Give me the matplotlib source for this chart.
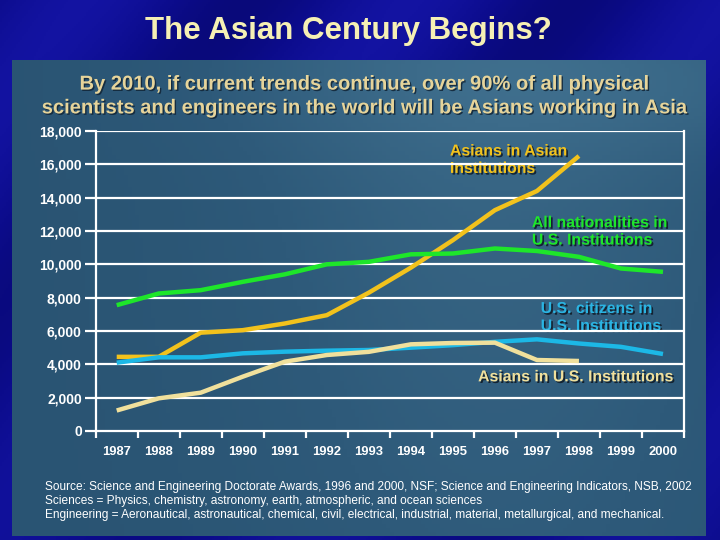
import numpy as np
import matplotlib.pyplot as plt
import matplotlib.patheffects as pe
from matplotlib.colors import LinearSegmentedColormap
from matplotlib.ticker import FixedLocator, FuncFormatter, NullFormatter

years = [1987, 1988, 1989, 1990, 1991, 1992, 1993, 1994, 1995, 1996, 1997, 1998, 1999, 2000]
# Asians in Asian institutions (to 1998)
asians_asia = [4450, 4450, 5900, 6050, 6450, 6950, 8300, 9800, 11450, 13250, 14400, 16500]
# all nationalities in US institutions
all_us = [7550, 8250, 8450, 8950, 9400, 10000, 10150, 10600, 10650, 10950, 10800, 10450, 9750, 9550]
# US citizens in US institutions
us_citizens = [4100, 4420, 4420, 4660, 4760, 4820, 4860, 5000, 5150, 5350, 5500, 5250, 5050, 4620]
# Asians in US institutions (to 1998)
asians_us = [1230, 1960, 2300, 3260, 4160, 4560, 4750, 5200, 5280, 5300, 4260, 4200]

yticks = [0, 2000, 4000, 6000, 8000, 10000, 12000, 14000, 16000, 18000]

plt.rcParams['font.family'] = ['Liberation Sans', 'DejaVu Sans']

fig = plt.figure(figsize=(7.2, 5.4), dpi=100)
fig.patch.set_facecolor('#0a0a7c')

# slide background in pixel coordinates
bg = fig.add_axes([0, 0, 1, 1])
bg.set_xlim(0, 720)
bg.set_ylim(540, 0)
bg.axis('off')
yy, xx = np.mgrid[0:1:270j, 0:1:360j]
ramp = 0.55 + 0.25 * np.sin((xx * 2.2 + yy * 1.3) * np.pi * 2) * (1 - yy * 0.4)
slide_cm = LinearSegmentedColormap.from_list('slide', ['#050560', '#0c0c8c', '#1818b0'])
bg.imshow(ramp, cmap=slide_cm, vmin=0, vmax=1, extent=(0, 720, 540, 0), aspect='auto', zorder=0)

# steel blue panel
py, px = np.mgrid[0:1:120j, 0:1:180j]
panel = 0.35 + 0.35 * np.exp(-((px - 0.7) ** 2) / 0.15) * (1 - 0.5 * py) + 0.15 * np.exp(-((py - 0.05) ** 2) / 0.02) * px
panel_cm = LinearSegmentedColormap.from_list('panel', ['#1f4662', '#2e5a7a', '#4a7c9a'])
bg.imshow(panel, cmap=panel_cm, vmin=0, vmax=1, extent=(12, 706, 536, 60), aspect='auto', zorder=1)

bg.text(348, 31, 'The Asian Century Begins?', ha='center', va='center', fontsize=22.5,
        fontweight='bold', color='#f6f0b4', zorder=3)
sub = ('By 2010, if current trends continue, over 90% of all physical\n'
       'scientists and engineers in the world will be Asians working in Asia')
bg.text(364, 96, sub, ha='center', va='center', fontsize=14.5, fontweight='bold',
        color='#e6d49a', linespacing=1.32, zorder=3,
        path_effects=[pe.withSimplePatchShadow(offset=(1, -1), shadow_rgbFace='#13283a', alpha=0.9)])
src = ('Source: Science and Engineering Doctorate Awards, 1996 and 2000, NSF; Science and Engineering Indicators, NSB, 2002\n'
       'Sciences = Physics, chemistry, astronomy, earth, atmospheric, and ocean sciences\n'
       'Engineering = Aeronautical, astronautical, chemical, civil, electrical, industrial, material, metallurgical, and mechanical.')
bg.text(45, 501, src, ha='left', va='center', fontsize=8.6, color='white',
        linespacing=1.2, zorder=3)

ax = fig.add_axes([95.7 / 720, 109 / 540, (684 - 95.7) / 720, 300 / 540])
ax.patch.set_alpha(0)
ax.set_xlim(1986.5, 2000.5)
ax.set_ylim(0, 18000)

for y in yticks[1:]:
    ax.axhline(y, color='white', lw=1.6, zorder=1)

ax.plot(years[:len(asians_asia)], asians_asia, color='#f2c21c', lw=3.2, zorder=3, solid_capstyle='butt')
ax.plot(years, all_us, color='#1ee62a', lw=3.2, zorder=3, solid_capstyle='butt')
ax.plot(years, us_citizens, color='#1cb8e6', lw=3.2, zorder=3, solid_capstyle='butt')
ax.plot(years[:len(asians_us)], asians_us, color='#f0e09c', lw=3.2, zorder=3, solid_capstyle='butt')

shadow = [pe.withSimplePatchShadow(offset=(1.2, -1.2), shadow_rgbFace='#101c28', alpha=0.9)]
labels = [
    (1994.93, 17250, 'Asians in Asian\nInstitutions', '#f2c21c'),
    (1996.88, 12950, 'All nationalities in\nU.S. Institutions', '#1ee62a'),
    (1997.09, 7800, 'U.S. citizens in\nU.S. Institutions', '#2ab4e2'),
    (1995.6, 3700, 'Asians in U.S. Institutions', '#f0e09c'),
]
for lx, ly, txt, col in labels:
    ax.text(lx, ly, txt, ha='left', va='top', fontsize=11.4, fontweight='bold',
            color=col, linespacing=1.2, zorder=0.5, path_effects=shadow)

for s in ['left', 'right', 'bottom']:
    ax.spines[s].set_color('white')
    ax.spines[s].set_linewidth(1.6)
ax.spines['top'].set_visible(False)

ax.yaxis.set_major_locator(FixedLocator(yticks))
ax.yaxis.set_major_formatter(FuncFormatter(lambda v, p: f'{int(v):,}'))
ax.tick_params(axis='y', colors='white', length=8, width=1.6, pad=2, labelsize=10)
for t in ax.get_yticklabels():
    t.set_fontweight('bold')

ax.xaxis.set_major_locator(FixedLocator(np.arange(1986.5, 2001, 1)))
ax.xaxis.set_major_formatter(NullFormatter())
ax.xaxis.set_minor_locator(FixedLocator(years))
ax.xaxis.set_minor_formatter(FuncFormatter(lambda v, p: str(int(round(v)))))
ax.tick_params(axis='x', which='major', colors='white', length=5, width=1.6)
ax.tick_params(axis='x', which='minor', colors='white', length=0, pad=11, labelsize=9.4)
for t in ax.get_xticklabels(minor=True):
    t.set_fontweight('bold')

fig.savefig('out.png', dpi=100, facecolor=fig.get_facecolor())
